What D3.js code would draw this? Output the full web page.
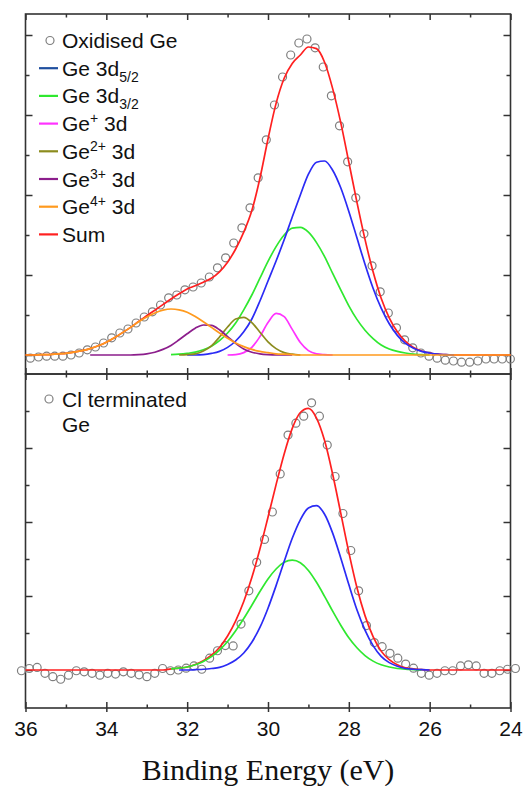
<!DOCTYPE html>
<html>
<head>
<meta charset="utf-8">
<script src="https://cdn.jsdelivr.net/npm/d3@7"></script>
<style>
    body { margin: 0; background: #fff; }
    svg { display: block; }
    .frame { fill: none; stroke: #333; stroke-width: 1.6; }
    .ticks { color: #333; }
    .ticks line { stroke-width: 1.5; }
    .xlabels text { font-family: 'Liberation Sans', Arial, sans-serif; font-size: 21px; fill: #111; }
    .legend text { font-family: 'Liberation Sans', Arial, sans-serif; font-size: 21px; fill: #111; }
    .title { font-family: 'Liberation Serif', 'Times New Roman', serif; font-size: 30px; fill: #111; }
    .scan { fill: none; stroke: #7f7f7f; stroke-width: 1.2; }
    .fit { fill: none; stroke-width: 1.7; stroke-linejoin: round; }
</style>
</head>
<body>
<svg id="chart"></svg>
<script>
// binding energy axis (eV)
const xMajor = [36, 34, 32, 30, 28, 26, 24]
const xMinor = [35, 33, 31, 29, 27, 25]

const topScanStart = 35.88
const topScanStep = 0.2013
const topScan = [-0.08, -0.05, -0.03, -0.03, -0.03, 0.00, 0.05, 0.13, 0.20, 0.30,
    0.43, 0.55, 0.65, 0.80, 0.95, 1.08, 1.25, 1.43, 1.50, 1.63,
    1.70, 1.80, 1.95, 2.18, 2.43, 2.80, 3.18, 3.68, 4.43, 5.38,
    6.25, 6.95, 7.50, 7.80, 7.90, 7.68, 7.20, 6.48, 5.73, 4.83,
    3.93, 3.03, 2.23, 1.58, 1.05, 0.68, 0.38, 0.18, 0.05, -0.03,
    -0.08, -0.13, -0.15, -0.18, -0.18, -0.15, -0.10, -0.10, -0.10, -0.10]

const botScanStart = 36.10
const botScanStep = 0.194
const botScan = [-0.02, 0.04, 0.07, -0.09, -0.18, -0.25, -0.14, -0.02, -0.05, -0.09,
    -0.14, -0.09, -0.11, -0.05, -0.09, -0.13, -0.18, -0.09, 0.04, -0.02,
    0.00, 0.05, 0.11, 0.02, 0.32, 0.52, 0.66, 0.65, 1.24, 2.14,
    2.91, 3.53, 4.27, 5.30, 6.35, 6.67, 6.86, 7.22, 6.86, 6.08,
    5.23, 4.23, 3.23, 2.14, 1.20, 0.74, 0.63, 0.45, 0.32, 0.16,
    0.05, -0.09, -0.14, -0.09, -0.02, -0.02, 0.11, 0.14, 0.11, -0.09,
    -0.09, -0.02, 0.02, 0.04]

// fitted components, sampled every 0.2 eV from their start energy
const fitStep = 0.2

const ge52TopStart = 32.0
const ge52Top = [0, 0, 0.01, 0.04, 0.09, 0.19, 0.35, 0.58, 0.90, 1.35, 1.85, 2.35, 2.88, 3.45,
    4.00, 4.52, 4.82, 4.85, 4.62, 4.18, 3.59, 2.93, 2.27, 1.67, 1.17, 0.78, 0.49,
    0.29, 0.17, 0.09, 0.05, 0.02, 0.01, 0]

const ge32TopStart = 32.4
const ge32Top = [0.01, 0.02, 0.04, 0.07, 0.13, 0.22, 0.36, 0.55, 0.80, 1.13, 1.50, 1.92,
    2.34, 2.71, 3.00, 3.17, 3.19, 3.07, 2.81, 2.46, 2.04, 1.63, 1.23, 0.89, 0.62,
    0.41, 0.25, 0.15, 0.09, 0.05, 0.02, 0.01, 0]

const ge1TopStart = 31.0
const ge1Top = [0, 0.01, 0.06, 0.19, 0.46, 0.81, 1.04, 0.96, 0.64, 0.31, 0.11, 0.03, 0.01, 0]

const ge2TopStart = 32.2
const ge2Top = [0, 0.01, 0.03, 0.10, 0.23, 0.45, 0.70, 0.90, 0.94, 0.81, 0.57, 0.33, 0.16,
    0.06, 0.02, 0]

const ge3TopStart = 34.4
const ge3Top = [0, 0, 0, 0, 0, 0, 0.01, 0.03, 0.07, 0.14, 0.24, 0.38, 0.53, 0.67, 0.75,
    0.74, 0.63, 0.46, 0.29, 0.15, 0.07, 0.03, 0.01, 0, 0, 0]

const ge4TopStart = 36.0
const ge4Top = [0, 0, 0.01, 0.01, 0.03, 0.04, 0.07, 0.11, 0.16, 0.23, 0.32, 0.43, 0.56, 0.69,
    0.83, 0.95, 1.05, 1.12, 1.15, 1.13, 1.07, 0.96, 0.83, 0.69, 0.55, 0.42, 0.30,
    0.21, 0.14, 0.09, 0.06, 0.03, 0.02, 0.01, 0,
    0, 0, 0, 0, 0, 0, 0, 0, 0, 0, 0, 0, 0, 0, 0, 0, 0, 0, 0, 0, 0, 0, 0, 0, 0, 0]

const ge52BotStart = 32.2
const ge52Bot = [0, 0, 0.01, 0.02, 0.04, 0.07, 0.15, 0.27, 0.46, 0.75, 1.15, 1.67, 2.28,
    2.93, 3.56, 4.06, 4.38, 4.44, 4.21, 3.70, 3.03, 2.31, 1.63, 1.08, 0.66, 0.37,
    0.20, 0.10, 0.04, 0.02, 0.01, 0]

const ge32BotStart = 32.4
const ge32Bot = [0.03, 0.05, 0.08, 0.14, 0.23, 0.36, 0.54, 0.77, 1.06, 1.39, 1.75, 2.12,
    2.46, 2.73, 2.91, 2.97, 2.90, 2.69, 2.37, 1.99, 1.59, 1.21, 0.87, 0.60, 0.39,
    0.24, 0.14, 0.08, 0.04, 0.02, 0.01, 0]

const COLORS = {
    ge52: '#2b2bf5',
    ge52Key: '#1f4f9f',
    ge32: '#2fe82f',
    ge1: '#ff33ff',
    ge2: '#8c8c1e',
    ge3: '#8c1e8c',
    ge4: '#ff9a1e',
    sum: '#ff2020',
}

const W = 527
const H = 786
const LEFT = 25.5
const RIGHT = 510.5
const TOP_PANEL = [14, 374]
const BOT_PANEL = [374, 708]

const svg = d3.select('#chart')
    .attr('width', W)
    .attr('height', H)
    .attr('viewBox', `0 0 ${W} ${H}`)

const x = d3.scaleLinear().domain([36, 24]).range([LEFT, RIGHT])
const yTop = d3.scaleLinear().domain([-0.475, 8.525]).range([TOP_PANEL[1], TOP_PANEL[0]])
const yBot = d3.scaleLinear().domain([-1.027, 8]).range([BOT_PANEL[1], BOT_PANEL[0]])

const series = (start, step, values) => values.map((v, i) => ({ e: start - i * step, v }))

// Sum envelope over the whole 36 - 24 eV window
function sumOf(parts) {
    const grid = d3.range(61).map(i => 36 - i * fitStep)
    return grid.map(e => {
        let v = 0
        parts.forEach(([start, values]) => {
            const j = Math.round((start - e) / fitStep)
            if (j >= 0 && j < values.length) v += values[j]
        })
        return { e, v }
    })
}

// Ticks on all four sides, pointing into the panel
function drawFrame(y, [top, bottom], yMajor, yMinor) {
    const g = svg.append('g').attr('class', 'ticks')
    const add = (axis, transform, values, size) => g.append('g')
        .attr('transform', transform)
        .call(axis.tickValues(values).tickSize(size).tickFormat(''))
        .call(a => a.select('.domain').remove())

    add(d3.axisLeft(y), `translate(${LEFT},0)`, yMajor, -7)
    add(d3.axisLeft(y), `translate(${LEFT},0)`, yMinor, -4)
    add(d3.axisRight(y), `translate(${RIGHT},0)`, yMajor, -7)
    add(d3.axisRight(y), `translate(${RIGHT},0)`, yMinor, -4)
    add(d3.axisTop(x), `translate(0,${top})`, xMajor, -6)
    add(d3.axisTop(x), `translate(0,${top})`, xMinor, -3.5)
    add(d3.axisBottom(x), `translate(0,${bottom})`, xMajor, -6)
    add(d3.axisBottom(x), `translate(0,${bottom})`, xMinor, -3.5)

    svg.append('rect')
        .attr('class', 'frame')
        .attr('x', LEFT)
        .attr('y', top)
        .attr('width', RIGHT - LEFT)
        .attr('height', bottom - top)
}

function drawScan(y, points) {
    svg.append('g').selectAll('circle')
        .data(points)
        .join('circle')
        .attr('class', 'scan')
        .attr('cx', d => x(d.e))
        .attr('cy', d => y(d.v))
        .attr('r', 4)
}

function drawFit(y, points, color, width) {
    const line = d3.line()
        .x(d => x(d.e))
        .y(d => y(d.v))
        .curve(d3.curveMonotoneX)
    svg.append('path')
        .datum(points)
        .attr('class', 'fit')
        .attr('stroke', color)
        .attr('stroke-width', width || 1.7)
        .attr('d', line)
}

// ---- top panel: oxidised Ge
drawFrame(yTop, TOP_PANEL, [0, 2, 4, 6, 8], [1, 3, 5, 7])
drawScan(yTop, series(topScanStart, topScanStep, topScan))

const topParts = [
    [ge52TopStart, ge52Top], [ge32TopStart, ge32Top], [ge1TopStart, ge1Top],
    [ge2TopStart, ge2Top], [ge3TopStart, ge3Top], [ge4TopStart, ge4Top],
]
drawFit(yTop, sumOf(topParts), COLORS.sum, 1.9)
drawFit(yTop, series(ge32TopStart, fitStep, ge32Top), COLORS.ge32)
drawFit(yTop, series(ge52TopStart, fitStep, ge52Top), COLORS.ge52)
drawFit(yTop, series(ge1TopStart, fitStep, ge1Top), COLORS.ge1)
drawFit(yTop, series(ge2TopStart, fitStep, ge2Top), COLORS.ge2)
drawFit(yTop, series(ge3TopStart, fitStep, ge3Top), COLORS.ge3)
drawFit(yTop, series(ge4TopStart, fitStep, ge4Top), COLORS.ge4)

// ---- bottom panel: Cl terminated Ge
drawFrame(yBot, BOT_PANEL, [0, 2, 4, 6], [1, 3, 5, 7])
drawScan(yBot, series(botScanStart, botScanStep, botScan))

const botParts = [[ge52BotStart, ge52Bot], [ge32BotStart, ge32Bot]]
drawFit(yBot, sumOf(botParts), COLORS.sum, 1.9)
drawFit(yBot, series(ge32BotStart, fitStep, ge32Bot), COLORS.ge32)
drawFit(yBot, series(ge52BotStart, fitStep, ge52Bot), COLORS.ge52)

// ---- x labels under the bottom panel
svg.append('g')
    .attr('class', 'ticks xlabels')
    .attr('transform', `translate(0,${BOT_PANEL[1]})`)
    .call(d3.axisBottom(x).tickValues(xMajor).tickSize(4).tickPadding(9).tickFormat(d3.format('d')))
    .call(a => a.select('.domain').remove())

svg.append('text')
    .attr('class', 'title')
    .attr('x', 268)
    .attr('y', 780)
    .attr('text-anchor', 'middle')
    .text('Binding Energy (eV)')

// ---- legends
const legendRows = [
    { kind: 'scan', parts: [['Oxidised Ge']] },
    { color: COLORS.ge52Key, parts: [['Ge 3d'], ['5/2', 'sub']] },
    { color: COLORS.ge32, parts: [['Ge 3d'], ['3/2', 'sub']] },
    { color: COLORS.ge1, parts: [['Ge'], ['+', 'sup'], [' 3d']] },
    { color: COLORS.ge2, parts: [['Ge'], ['2+', 'sup'], [' 3d']] },
    { color: COLORS.ge3, parts: [['Ge'], ['3+', 'sup'], [' 3d']] },
    { color: COLORS.ge4, parts: [['Ge'], ['4+', 'sup'], [' 3d']] },
    { color: COLORS.sum, parts: [['Sum']] },
]

const legend = svg.append('g').attr('class', 'legend')

function legendText(g, ty, parts) {
    const t = g.append('text').attr('x', 62).attr('y', ty + 7.5)
    let shift = 0
    parts.forEach(([s, mode]) => {
        const target = mode === 'sub' ? 6 : mode === 'sup' ? -8 : 0
        t.append('tspan')
            .attr('dy', target - shift)
            .attr('font-size', mode ? 14 : 21)
            .text(s)
        shift = target
    })
}

legendRows.forEach((row, i) => {
    const ty = 40.5 + i * 27.7
    if (row.kind === 'scan') {
        legend.append('circle').attr('class', 'scan').attr('cx', 50).attr('cy', ty).attr('r', 4)
    } else {
        legend.append('line')
            .attr('x1', 39).attr('x2', 58)
            .attr('y1', ty).attr('y2', ty)
            .attr('stroke', row.color)
            .attr('stroke-width', 2.2)
    }
    legendText(legend, ty, row.parts)
})

legend.append('circle').attr('class', 'scan').attr('cx', 49).attr('cy', 399).attr('r', 4)
legendText(legend, 399, [['Cl terminated']])
legendText(legend, 424, [['Ge']])
</script>
</body>
</html>
